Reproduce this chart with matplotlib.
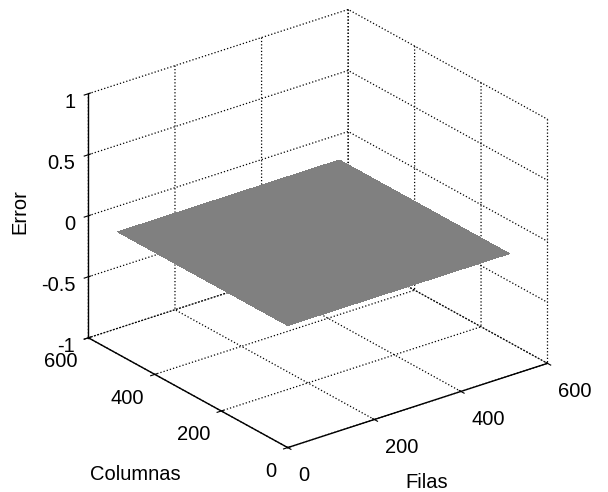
import numpy as np
import matplotlib
matplotlib.use("Agg")
from matplotlib import pyplot as plt

# error surface: 512 x 512 image, error is zero everywhere
filas = np.array([0, 512])
columnas = np.array([0, 512])
error = np.array([[0.0, 0.0],
                  [0.0, 0.0]])

xticks = [0, 200, 400, 600]
yticks = [0, 200, 400, 600]
zticks = [-1, -0.5, 0, 0.5, 1]
zticklabels = ["-1", "-0.5", "0", "0.5", "1"]

plt.rcParams["font.family"] = ["Liberation Sans", "DejaVu Sans"]
plt.rcParams["font.size"] = 14.5
plt.rcParams["grid.linestyle"] = ":"
plt.rcParams["grid.color"] = "black"
plt.rcParams["grid.linewidth"] = 0.9

fig = plt.figure(figsize=(6.08, 4.92), dpi=100)
ax = fig.add_axes([0.012, 0.022, 1.0, 1.0], projection="3d")
ax.set_proj_type("ortho")
ax.view_init(elev=25, azim=-127.5)
ax.set_box_aspect((4, 4, 3.29), zoom=1.057)

X, Y = np.meshgrid(filas, columnas)
ax.plot_surface(X, Y, error, color="#808080", shade=False,
                linewidth=0, antialiased=False)

ax.set_xlim(0, 600)
ax.set_ylim(0, 600)
ax.set_zlim(-1, 1)
ax.set_xticks(xticks)
ax.set_yticks(yticks)
ax.set_zticks(zticks)
ax.set_xticklabels([str(v) for v in xticks], ha="left")
ax.set_yticklabels([str(v) for v in yticks], ha="right")
ax.set_zticklabels(zticklabels, ha="right")
ax.xaxis.set_tick_params(pad=1.5)
ax.yaxis.set_tick_params(pad=0)
ax.zaxis.set_tick_params(pad=-2.7)

for a in (ax.xaxis, ax.yaxis, ax.zaxis):
    a.set_pane_color((1, 1, 1, 0))
    a.pane.set_edgecolor("none")
    a.line.set_color("black")
    a.line.set_linewidth(1.0)

fig.text(0.033, 0.569, "Error", rotation=90, ha="center", va="center")
fig.text(0.222, 0.035, "Columnas", ha="center", va="center")
fig.text(0.702, 0.02, "Filas", ha="center", va="center")

fig.savefig("out.png", dpi=100)
